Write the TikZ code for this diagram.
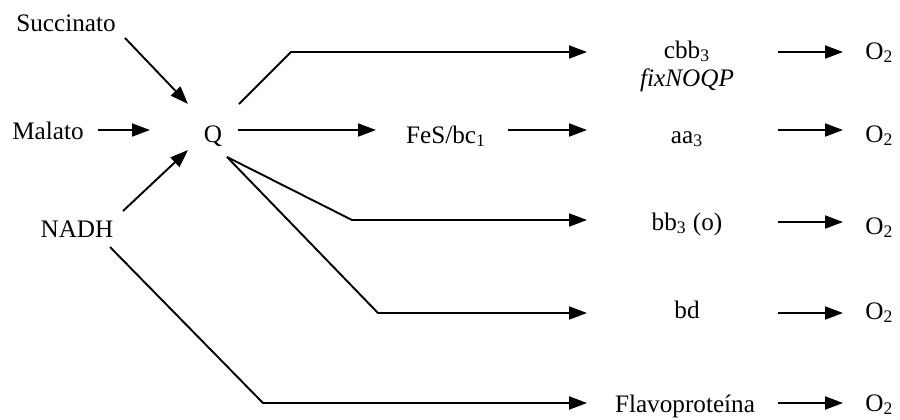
\documentclass[tikz,border=0pt]{standalone}
\usepackage{fontspec}
\setmainfont{Liberation Serif}
\usetikzlibrary{arrows.meta}

\begin{document}
\begin{tikzpicture}[x=0.5pt,y=-0.5pt,
  every node/.style={inner sep=0pt,font=\fontsize{12.6}{15}\selectfont},
  lbl/.style={anchor=base},
  oxy/.style={anchor=base west},
  link/.style={line width=0.95pt},
  arr/.style={link,-{Triangle[length=9pt,width=6.5pt]}}]

\useasboundingbox (0,0) rectangle (900,419);

% substrates and the quinone pool
\node[lbl] (succ) at (66,31)  {Succinato};
\node[lbl] (mal)  at (48,139) {Malato};
\node[lbl] (nadh) at (77,237) {NADH};
\node[lbl] (Q)    at (213,142) {Q};
\node[lbl] (fes)  at (446,143) {FeS/bc\textsubscript{1}};

% terminal oxidases
\node[lbl] (cbb)  at (687,58)  {cbb\textsubscript{3}};
\node[lbl] (fix)  at (687,86)  {\itshape fixNOQP};
\node[lbl] (aa)   at (687,143) {aa\textsubscript{3}};
\node[lbl] (bb)   at (687,230) {bb\textsubscript{3} (o)};
\node[lbl] (bd)   at (687,318) {bd};
\node[lbl] (flav) at (685,412) {Flavoproteína};

% oxygen
\node[oxy] (o1) at (865,59)  {O\textsubscript{2}};
\node[oxy] (o2) at (865,142) {O\textsubscript{2}};
\node[oxy] (o3) at (865,234) {O\textsubscript{2}};
\node[oxy] (o4) at (865,319) {O\textsubscript{2}};
\node[oxy] (o5) at (865,411) {O\textsubscript{2}};

% connector end points
\coordinate (succ-out) at (125,38);
\coordinate (succ-in)  at (188,104);
\coordinate (mal-out)  at (98,130);
\coordinate (mal-in)   at (150,130);
\coordinate (nadh-out) at (123,211);
\coordinate (nadh-in)  at (188,150);
\coordinate (q-up)     at (239,104);
\coordinate (q-mid)    at (238,130);
\coordinate (q-down)   at (227,157);
\coordinate (bend-cbb) at (291,52);
\coordinate (bend-bb)  at (352,220);
\coordinate (bend-bd)  at (378,313);
\coordinate (nadh-low) at (110,247);
\coordinate (bend-fl)  at (263,403);
\coordinate (fes-in)   at (376,130);
\coordinate (fes-out)  at (508,130);
\coordinate (cbb-in)   at (587,52);
\coordinate (aa-in)    at (587,130);
\coordinate (bb-in)    at (587,220);
\coordinate (bd-in)    at (587,313);
\coordinate (fl-in)    at (587,403);

% into Q
\draw[arr] (succ-out) -- (succ-in);
\draw[arr] (mal-out) -- (mal-in);
\draw[arr] (nadh-out) -- (nadh-in);

% out of Q
\draw[arr] (q-up) -- (bend-cbb) -- (cbb-in);
\draw[arr] (q-mid) -- (fes-in);
\draw[arr] (fes-out) -- (aa-in);
\draw[arr] (q-down) -- (bend-bb) -- (bb-in);
\draw[arr] (q-down) -- (bend-bd) -- (bd-in);
\draw[arr] (nadh-low) -- (bend-fl) -- (fl-in);

% oxidases to oxygen
\foreach \y/\o in {52/o1,130/o2,222/o3,313/o4,403/o5}{
  \coordinate (\o-src) at (778,\y);
  \coordinate (\o-tip) at (843,\y);
  \draw[arr] (\o-src) -- (\o-tip);
}
\end{tikzpicture}
\end{document}
